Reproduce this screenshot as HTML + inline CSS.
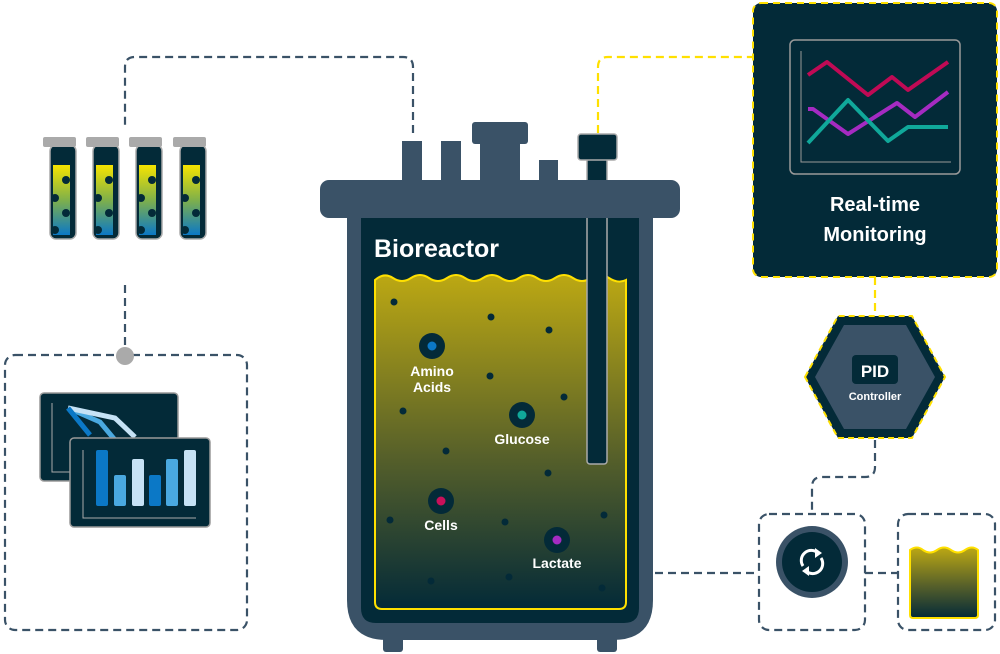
<!DOCTYPE html>
<html><head><meta charset="utf-8"><style>body{margin:0;background:#fff}svg{display:block}text{font-family:"Liberation Sans",sans-serif;font-weight:bold;fill:#fff}</style></head><body>
<svg width="1000" height="654" viewBox="0 0 1000 654" xmlns="http://www.w3.org/2000/svg">
<defs>
<linearGradient id="liq" x1="0" y1="0" x2="0" y2="1"><stop offset="0" stop-color="#bca813"/><stop offset="0.55" stop-color="#555f2a"/><stop offset="1" stop-color="#032a38"/></linearGradient>
<linearGradient id="tl" x1="0" y1="0" x2="0" y2="1"><stop offset="0" stop-color="#f6e400"/><stop offset="0.5" stop-color="#7fb04a"/><stop offset="1" stop-color="#0b78c6"/></linearGradient>
</defs>
<g fill="none" stroke="#3a5267" stroke-width="2.2" stroke-dasharray="8,5">
<path d="M413,133 V67 Q413,57 403,57 H135 Q125,57 125,67 V125"/>
<path d="M125,285 V355"/>
<rect x="5" y="355" width="242" height="275" rx="10"/>
<path d="M875,440 V467 Q875,477 865,477 H822 Q812,477 812,487 V514"/>
<rect x="759" y="514" width="106" height="116" rx="10"/>
<rect x="898" y="514" width="97" height="116" rx="10"/>
<path d="M655,573 H759 M865,573 H898"/>
</g>
<g fill="none" stroke="#ffe000" stroke-width="2.2" stroke-dasharray="8,5">
<path d="M598,133 V67 Q598,57 608,57 H753"/>
<path d="M875,277 V316"/>
</g>
<circle cx="125" cy="356" r="9" fill="#aaa"/>
<g>
<g id="t"><rect x="50" y="145" width="26" height="94" rx="6" fill="#032a38" stroke="#aaa" stroke-width="1.5"/><rect x="53" y="165" width="17" height="70" fill="url(#tl)"/><circle cx="66" cy="180" r="4" fill="#032a38"/><circle cx="55" cy="198" r="4" fill="#032a38"/><circle cx="66" cy="213" r="4" fill="#032a38"/><circle cx="55" cy="230" r="4" fill="#032a38"/><rect x="43" y="137" width="33" height="10" rx="2" fill="#aaa"/></g>
<use href="#t" x="43"/><use href="#t" x="86"/><use href="#t" x="130"/>
</g>
<rect x="40" y="393" width="138" height="88" rx="4" fill="#032a38" stroke="#999" stroke-width="1.5"/>
<path d="M52,403 V472 H70" stroke="#aaa" stroke-width="1" fill="none"/>
<path d="M68,408 L100,422 L115,440" stroke="#4aa9e0" stroke-width="5" fill="none"/>
<path d="M68,408 L115,418 L135,437" stroke="#c6e2f5" stroke-width="5" fill="none"/>
<path d="M68,408 L90,435" stroke="#0b78c6" stroke-width="5" fill="none"/>
<rect x="70" y="438" width="140" height="89" rx="4" fill="#032a38" stroke="#999" stroke-width="1.5"/>
<path d="M83,450 V518 H196" stroke="#aaa" stroke-width="1" fill="none"/>
<rect x="96" y="450" width="12" height="56" rx="2" fill="#0b78c6"/><rect x="114" y="475" width="12" height="31" rx="2" fill="#4aa9e0"/><rect x="132" y="459" width="12" height="47" rx="2" fill="#c6e2f5"/><rect x="149" y="475" width="12" height="31" rx="2" fill="#0b78c6"/><rect x="166" y="459" width="12" height="47" rx="2" fill="#4aa9e0"/><rect x="184" y="450" width="12" height="56" rx="2" fill="#c6e2f5"/>
<g fill="#3a5267">
<rect x="402" y="141" width="20" height="45"/><rect x="441" y="141" width="20" height="45"/><rect x="480" y="135" width="40" height="50"/><rect x="472" y="122" width="56" height="22" rx="3"/><rect x="539" y="160" width="19" height="25"/>
<rect x="383" y="625" width="20" height="27" rx="3"/><rect x="597" y="625" width="20" height="27" rx="3"/>
<path d="M347,210 H653 V600 Q653,640 613,640 H387 Q347,640 347,600 Z"/>
</g>
<path d="M361,218 H639 V608 Q639,623 624,623 H376 Q361,623 361,608 Z" fill="#032a38"/>
<path d="M375,280 Q384,272 393,278 Q402,284 411,278 Q420,272 429,278 Q438,284 447,278 Q456,272 465,278 Q474,284 483,278 Q492,272 501,278 Q510,284 519,278 Q528,272 537,278 Q546,284 555,278 Q564,272 573,278 Q582,284 591,278 Q600,272 609,278 Q618,284 626,280 V602 Q626,609 619,609 H382 Q375,609 375,602 Z" fill="url(#liq)" stroke="#ffe000" stroke-width="2"/>
<rect x="587" y="150" width="20" height="314" rx="3" fill="#032a38" stroke="#aaa" stroke-width="1.5"/>
<rect x="320" y="180" width="360" height="38" rx="9" fill="#3a5267"/>
<rect x="578" y="134" width="39" height="26" rx="3" fill="#032a38" stroke="#aaa" stroke-width="1.5"/>
<text x="374" y="257" font-size="25">Bioreactor</text>
<g fill="#032a38">
<circle cx="394" cy="302" r="3.5"/><circle cx="491" cy="317" r="3.5"/><circle cx="549" cy="330" r="3.5"/><circle cx="490" cy="376" r="3.5"/><circle cx="564" cy="397" r="3.5"/><circle cx="403" cy="411" r="3.5"/><circle cx="446" cy="451" r="3.5"/><circle cx="548" cy="473" r="3.5"/><circle cx="390" cy="520" r="3.5"/><circle cx="505" cy="522" r="3.5"/><circle cx="604" cy="515" r="3.5"/><circle cx="431" cy="581" r="3.5"/><circle cx="509" cy="577" r="3.5"/><circle cx="602" cy="588" r="3.5"/>
<circle cx="432" cy="346" r="13"/><circle cx="522" cy="415" r="13"/><circle cx="441" cy="501" r="13"/><circle cx="557" cy="540" r="13"/>
</g>
<circle cx="432" cy="346" r="4.5" fill="#0b78c6"/><circle cx="522" cy="415" r="4.5" fill="#10a89a"/><circle cx="441" cy="501" r="4.5" fill="#c8105a"/><circle cx="557" cy="540" r="4.5" fill="#a52bc2"/>
<g font-size="14" text-anchor="middle"><text x="432" y="376">Amino</text><text x="432" y="392">Acids</text><text x="522" y="444">Glucose</text><text x="441" y="530">Cells</text><text x="557" y="568">Lactate</text></g>
<rect x="753" y="3" width="244" height="274" rx="8" fill="#032a38" stroke="#ffe000" stroke-width="2" stroke-dasharray="7,5"/>
<rect x="790" y="40" width="170" height="134" rx="5" fill="none" stroke="#999" stroke-width="1.5"/>
<path d="M801,51 V162 H951" stroke="#999" stroke-width="1" fill="none"/>
<g fill="none" stroke-width="4" stroke-linejoin="round">
<path d="M808,75 L827,62 L868,95 L892,77 L908,90 L948,62" stroke="#c00a55"/>
<path d="M808,109 L813,109 L848,134 L897,103 L915,117 L948,92" stroke="#a52bc2"/>
<path d="M808,143 L848,100 L888,141 L908,127 L948,127" stroke="#10a89a"/>
</g>
<g font-size="20" text-anchor="middle"><text x="875" y="211">Real-time</text><text x="875" y="241">Monitoring</text></g>
<polygon points="805,377 838,316 912,316 945,377 912,438 838,438" fill="#032a38" stroke="#ffe000" stroke-width="2" stroke-dasharray="6,4"/>
<polygon points="815,377 844,325 906,325 935,377 906,429 844,429" fill="#3a5267"/>
<rect x="852" y="355" width="46" height="29" rx="4" fill="#032a38"/>
<text x="875" y="377" font-size="17" text-anchor="middle">PID</text>
<text x="875" y="400" font-size="11" text-anchor="middle">Controller</text>
<circle cx="812" cy="562" r="36" fill="#3a5267"/><circle cx="812" cy="562" r="30" fill="#032a38"/>
<g fill="none" stroke="#fff" stroke-width="3"><path d="M803,566 A10,10 0 0 1 818,553"/><path d="M821,558 A10,10 0 0 1 806,571"/></g>
<path d="M815,548 L822,553 L815,558 Z M809,566 L802,571 L809,576 Z" fill="#fff"/>
<path d="M910,550 Q917,545 923,550 Q930,555 937,550 Q944,545 951,550 Q958,555 965,550 Q972,545 978,550 V615 Q978,618 975,618 H913 Q910,618 910,615 Z" fill="url(#liq)" stroke="#ffe000" stroke-width="2"/>
</svg>
</body></html>
